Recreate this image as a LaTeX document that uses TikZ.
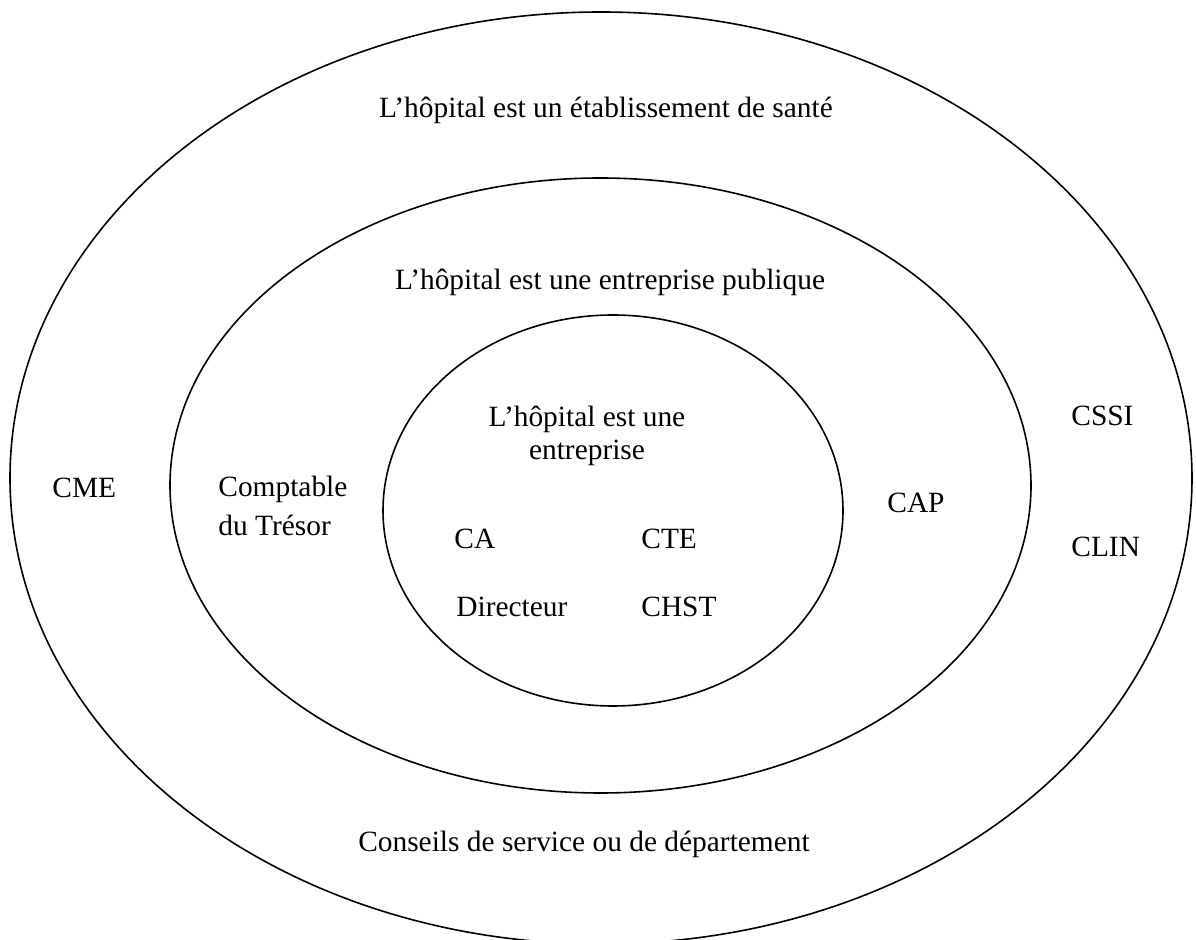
\documentclass[tikz,border=0pt]{standalone}
\usepackage{fontspec}
\setmainfont{Liberation Serif}
\usetikzlibrary{positioning, shapes.geometric}

\begin{document}
\begin{tikzpicture}[x=0.5pt, y=-0.5pt,
    ring/.style={draw, thick, ellipse, inner sep=0pt},
    word/.style={font=\fontsize{14.7pt}{16.5pt}\selectfont, inner sep=0pt}]
  \useasboundingbox (0,0) rectangle (1196,940);
  \clip (0,0) rectangle (1196,940);

  \node[ring, minimum width=591pt, minimum height=466pt] (sante) at (601,478) {};
  \node[ring, minimum width=430.5pt, minimum height=307.5pt] (public) at (600.5,485.5) {};
  \node[ring, minimum width=230pt, minimum height=195.5pt] (firm) at (613,510.5) {};

  \node[word, anchor=base] (santetxt) at (606,118) {L’hôpital est un établissement de santé};
  \node[word, anchor=base] (publictxt) at (610,290) {L’hôpital est une entreprise publique};
  \node[word, anchor=base, align=center] (firmtxt) at (587,460) {L’hôpital est une\\entreprise};
  \node[word, anchor=base] (conseils) at (584,852) {Conseils de service ou de département};

  \node[word, anchor=base west] (cme) at (52,498) {CME};
  \node[word, anchor=base west, align=left, font=\fontsize{14.7pt}{19.5pt}\selectfont] (tresor) at (218,536) {Comptable\\du Trésor};
  \node[word, anchor=base west] (ca) at (454,549) {CA};
  \node[word, anchor=base west] (cte) at (641,549) {CTE};
  \node[word, anchor=base west] (dir) at (456,617) {Directeur};
  \node[word, anchor=base west] (chst) at (641,617) {CHST};
  \node[word, anchor=base west] (cap) at (887,513) {CAP};
  \node[word, anchor=base west] (cssi) at (1071,426) {CSSI};
  \node[word, anchor=base west] (clin) at (1071,557) {CLIN};
\end{tikzpicture}
\end{document}
